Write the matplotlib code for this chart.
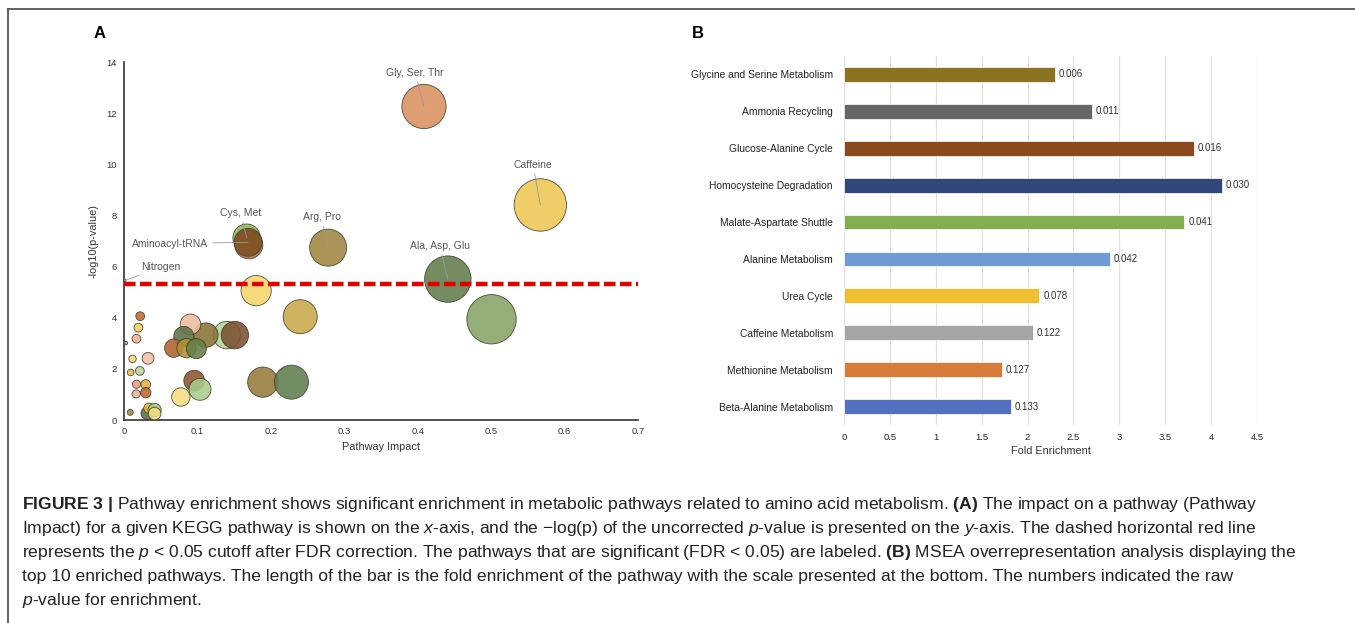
import matplotlib.pyplot as plt
from matplotlib.lines import Line2D

plt.rcParams['font.family'] = ['Liberation Sans', 'DejaVu Sans']
plt.rcParams['mathtext.fontset'] = 'custom'
plt.rcParams['mathtext.rm'] = 'Liberation Sans'
plt.rcParams['mathtext.it'] = 'Liberation Sans:italic'
plt.rcParams['mathtext.bf'] = 'Liberation Sans:bold'

# ---- panel A: pathway impact vs -log10(p) ----
impact = [0.4085, 0.567, 0.441, 0.5005, 0.278, 0.167, 0.170, 0.169, 0.180, 0.240,
          0.189, 0.228, 0.140, 0.151, 0.1116, 0.0905, 0.0814, 0.0678, 0.085, 0.0985,
          0.0955, 0.1035, 0.0774, 0.0317, 0.034, 0.0417, 0.0417, 0.0221, 0.0196, 0.017,
          0.0025, 0.0116, 0.0327, 0.0216, 0.009, 0.017, 0.0296, 0.0166, 0.0296, 0.0085,
          0.001]
logp = [12.26, 8.41, 5.51, 3.94, 6.74, 7.13, 6.85, 6.95, 5.06, 4.04,
        1.48, 1.48, 3.32, 3.32, 3.32, 3.74, 3.27, 2.81, 2.81, 2.79,
        1.54, 1.20, 0.90, 0.26, 0.46, 0.39, 0.25, 4.06, 3.61, 3.18,
        3.01, 2.39, 2.41, 1.92, 1.86, 1.40, 1.39, 1.02, 1.07, 0.30,
        5.45]
bubble_size = [22.1, 26.2, 23.2, 24.7, 18.5, 13.7, 14.0, 14.0, 15.1, 17.0,
               15.1, 17.0, 13.7, 13.7, 12.2, 10.3, 10.0, 9.2, 9.6, 10.0,
               10.3, 11.0, 9.2, 6.3, 5.2, 6.6, 6.3, 4.4, 4.4, 4.4,
               1.8, 3.7, 5.9, 4.4, 3.3, 4.1, 4.8, 4.1, 5.2, 3.0,
               1.2]
bubble_colors = ['#DB9060', '#EFC752', '#627C4B', '#87A263', '#A08540', '#8DB85A',
                 '#B0703E', '#7E5024', '#F5D76A', '#C9A94A', '#97793A', '#5F7C4E',
                 '#B5D49A', '#7A5030', '#8A7235', '#EDBC9F', '#5C7045', '#B0622E',
                 '#B09030', '#647F45', '#8A5530', '#A9CC88', '#F5DC80', '#5C7045',
                 '#E8C040', '#A9CC88', '#F5DC80', '#C06A35', '#F2D060', '#EDB090',
                 '#8DB85A', '#F5D770', '#EFC0A5', '#B5D49A', '#EBC24A', '#E8A07A',
                 '#E8B040', '#EDB595', '#C0652E', '#A08540', '#888888']
fdr_cutoff = 5.3

# labelled pathways -> index of their bubble
labels_a = ['Gly, Ser, Thr', 'Caffeine', 'Ala, Asp, Glu', 'Arg, Pro',
            'Cys, Met', 'Aminoacyl-tRNA', 'Nitrogen']
label_idx = [0, 1, 2, 4, 5, 7, 40]

# ---- panel B: MSEA fold enrichment ----
pathways = ['Glycine and Serine Metabolism', 'Ammonia Recycling',
            'Glucose-Alanine Cycle', 'Homocysteine Degradation',
            'Malate-Aspartate Shuttle', 'Alanine Metabolism', 'Urea Cycle',
            'Caffeine Metabolism', 'Methionine Metabolism',
            'Beta-Alanine Metabolism']
fold = [2.30, 2.70, 3.81, 4.12, 3.71, 2.90, 2.13, 2.06, 1.72, 1.82]
pvals = ['0.006', '0.011', '0.016', '0.030', '0.041', '0.042', '0.078',
         '0.122', '0.127', '0.133']
bar_colors = ['#8B7322', '#666666', '#8B4A1E', '#33467A', '#84AD50',
              '#6F9AD3', '#EFBF2F', '#A5A5A5', '#D97B3A', '#5470C0']

dpi = 100
fig = plt.figure(figsize=(13.55, 6.23), dpi=dpi)

# frame lines along top and left
fig.add_artist(Line2D([8 / 1355, 1], [1 - 9 / 623, 1 - 9 / 623], color='#555555', lw=1.3))
fig.add_artist(Line2D([8 / 1355, 8 / 1355], [0, 1 - 9 / 623], color='#555555', lw=1.3))

# panel A
ax = fig.add_axes([124 / 1355, 203 / 623, 514 / 1355, 358 / 623])
sizes = [(2 * r * 72 / dpi) ** 2 for r in bubble_size]
ax.scatter(impact, logp, s=sizes, c=bubble_colors, alpha=0.88,
           edgecolors='#3a3a2a', linewidths=0.6, clip_on=False, zorder=3)
ax.plot([0, 0.7], [fdr_cutoff, fdr_cutoff], color='#E00000', lw=3.2,
        linestyle=(0, (2.6, 1.0)), zorder=4, solid_capstyle='butt')

offsets = {
    'Gly, Ser, Thr': (-0.012, 1.32, 'center'),
    'Caffeine': (-0.010, 1.57, 'center'),
    'Ala, Asp, Glu': (-0.011, 1.31, 'center'),
    'Arg, Pro': (-0.009, 1.18, 'center'),
    'Cys, Met': (-0.008, 0.96, 'center'),
    'Aminoacyl-tRNA': (-0.054, -0.05, 'right'),
    'Nitrogen': (0.022, 0.53, 'left'),
}
for name, i in zip(labels_a, label_idx):
    dx, dy, ha = offsets[name]
    ax.annotate(name, xy=(impact[i], logp[i]), xytext=(impact[i] + dx, logp[i] + dy),
                ha=ha, va='center', fontsize=7.5, color='#555555', zorder=5,
                annotation_clip=False,
                arrowprops=dict(arrowstyle='-', color='#999999', lw=0.6,
                                shrinkA=1, shrinkB=0))

ax.set_xlim(0, 0.7)
ax.set_ylim(0, 14)
ax.set_xticks([0, 0.1, 0.2, 0.3, 0.4, 0.5, 0.6, 0.7])
ax.set_xticklabels(['0', '0.1', '0.2', '0.3', '0.4', '0.5', '0.6', '0.7'])
ax.set_yticks(range(0, 15, 2))
ax.tick_params(length=0, labelsize=6.8, labelcolor='#333333', pad=5)
for side in ['top', 'right']:
    ax.spines[side].set_visible(False)
for side in ['left', 'bottom']:
    ax.spines[side].set_color('#333333')
    ax.spines[side].set_linewidth(1.2)
ax.set_xlabel('Pathway Impact', fontsize=7.8, color='#333333', labelpad=4)
ax.set_ylabel('-log10(p-value)', fontsize=7.8, color='#333333', labelpad=6)

# panel B
bx = fig.add_axes([844 / 1355, 198 / 623, 413 / 1355, 369 / 623])
ypos = list(range(len(pathways)))
bx.barh(ypos, fold, height=0.4, color=bar_colors, edgecolor='white', linewidth=0.5, zorder=3)
for y, v, p in zip(ypos, fold, pvals):
    bx.text(v + 0.04, y, p, va='center', ha='left', fontsize=7, color='#333333')
bx.set_ylim(len(pathways) - 0.5, -0.5)
bx.set_xlim(0, 4.5)
bx.set_yticks(ypos)
bx.set_yticklabels(pathways)
xt = [0, 0.5, 1, 1.5, 2, 2.5, 3, 3.5, 4, 4.5]
bx.set_xticks(xt)
bx.set_xticklabels(['0', '0.5', '1', '1.5', '2', '2.5', '3', '3.5', '4', '4.5'])
bx.grid(axis='x', color='#E0E0E0', lw=0.8, zorder=0)
bx.tick_params(length=0, labelsize=7.4, labelcolor='#222222')
bx.tick_params(axis='x', labelsize=6.8, pad=6)
bx.tick_params(axis='y', pad=8)
for side in bx.spines:
    bx.spines[side].set_visible(False)
bx.set_xlabel('Fold Enrichment', fontsize=7.8, color='#333333', labelpad=3)

# panel letters
fig.text(100 / 1355, 1 - 33 / 623, 'A', fontsize=12, fontweight='bold', ha='center', va='center')
fig.text(698 / 1355, 1 - 33 / 623, 'B', fontsize=12, fontweight='bold', ha='center', va='center')

# caption
caption = [
    r'$\mathbf{FIGURE\ 3\ |}$ Pathway enrichment shows significant enrichment in metabolic pathways related to amino acid metabolism. $\mathbf{(A)}$ The impact on a pathway (Pathway',
    r'Impact) for a given KEGG pathway is shown on the $\mathit{x}$-axis, and the $-$log(p) of the uncorrected $\mathit{p}$-value is presented on the $\mathit{y}$-axis. The dashed horizontal red line',
    r'represents the $\mathit{p}$ < 0.05 cutoff after FDR correction. The pathways that are significant (FDR < 0.05) are labeled. $\mathbf{(B)}$ MSEA overrepresentation analysis displaying the',
    r'top 10 enriched pathways. The length of the bar is the fold enrichment of the pathway with the scale presented at the bottom. The numbers indicated the raw',
    r'$\mathit{p}$-value for enrichment.',
]
for k, line in enumerate(caption):
    fig.text(22 / 1355, 1 - (505 + k * 23.8) / 623, line, fontsize=12.6,
             color='#222222', ha='left', va='center')

fig.savefig('out.png', dpi=dpi)
